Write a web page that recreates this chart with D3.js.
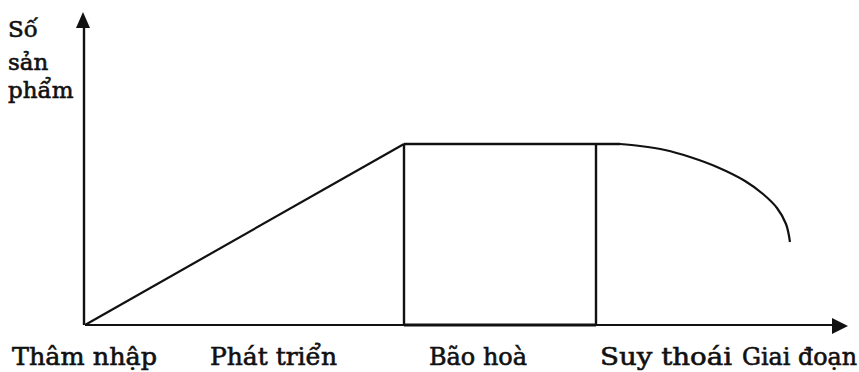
<!DOCTYPE html>
<html>
<head>
<meta charset="utf-8">
<script src="https://cdn.jsdelivr.net/npm/d3@7"></script>
<style>
html,body{margin:0;padding:0;background:#fff;}
svg{display:block;}
text{font-family:"DejaVu Serif",serif;fill:#111;stroke:#111;stroke-width:0.6px;}
</style>
</head>
<body>
<svg id="c" width="859" height="372"></svg>
<script>
// Stage labels on the horizontal axis (value = start position in time units)
const stages = ["Thâm nhập", "Phát triển", "Bão hoà", "Suy thoái"];
const stageLabelX = [-73, 125, 344, 515];
const stageLabelW = [145, 127, 98, 132];
const xTitle = "Giai đoạn";
const xTitleX = 657, xTitleW = 115;
const yTitle = ["Số", "sản", "phẩm"];

// Product-life-cycle line: introduction/growth rise, saturation plateau
const riseX = [0, 319];
const riseY = [0, 181];
const plateauX = [319, 535];
const plateauY = [181, 181];
// saturation box verticals
const boxX = [319, 511];
const boxTop = 181;
// decline curve
const declineX = [535, 555, 580, 605, 632, 660, 678, 692, 701, 705];
const declineY = [181, 179, 175, 168, 158, 144, 131, 117, 101, 83];

const xMax = 763, yMax = 313;

const svg = d3.select("#c");
const x = d3.scaleLinear().domain([0, xMax]).range([85, 848]);
const y = d3.scaleLinear().domain([0, yMax]).range([325, 12]);

const ink = "#111";

// axes (no ticks), drawn through d3 axes
const gx = svg.append("g").attr("transform", `translate(0,${y(0)})`)
  .call(d3.axisBottom(x).tickValues([]).tickSizeOuter(0));
gx.select(".domain").attr("stroke", ink).attr("stroke-width", 2.2).attr("d", `M${x(0)},0H${x(xMax) - 12}`);
const gy = svg.append("g").attr("transform", `translate(${x(0) - 1},0)`)
  .call(d3.axisLeft(y).tickValues([]).tickSizeOuter(0));
gy.select(".domain").attr("stroke", ink).attr("stroke-width", 2.4).attr("d", `M0,${y(0)}V${y(yMax) + 12}`);

// arrowheads
svg.append("path").attr("fill", ink)
  .attr("d", `M${x(0) - 2},${y(yMax)} L${x(0) - 9},${y(yMax) + 16} L${x(0) + 5},${y(yMax) + 16} Z`);
svg.append("path").attr("fill", ink)
  .attr("d", `M${x(xMax)},${y(0) + 1} L${x(xMax) - 16},${y(0) - 7} L${x(xMax) - 16},${y(0) + 9} Z`);

const line = d3.line().x(d => x(d[0])).y(d => y(d[1]));

svg.append("path").attr("fill", "none").attr("stroke", ink).attr("stroke-width", 2.2)
  .attr("d", line(riseX.map((v, i) => [v, riseY[i]])));
svg.append("path").attr("fill", "none").attr("stroke", ink).attr("stroke-width", 2.4)
  .attr("d", line(plateauX.map((v, i) => [v, plateauY[i]])));
boxX.forEach(v => {
  svg.append("path").attr("fill", "none").attr("stroke", ink).attr("stroke-width", 2.4)
    .attr("d", line([[v, 0], [v, boxTop]]));
});
// thicker base of the saturation box
svg.append("path").attr("fill", "none").attr("stroke", ink).attr("stroke-width", 3)
  .attr("d", line([[boxX[0], 0], [boxX[1], 0]]));

svg.append("path").attr("fill", "none").attr("stroke", ink).attr("stroke-width", 2.2)
  .attr("d", d3.line().x(d => x(d[0])).y(d => y(d[1])).curve(d3.curveCatmullRom)(declineX.map((v, i) => [v, declineY[i]])));

// labels
stages.forEach((s, i) => {
  svg.append("text").attr("x", x(stageLabelX[i] + 0)).attr("y", 365)
    .attr("font-size", 24).attr("textLength", stageLabelW[i]).attr("lengthAdjust", "spacingAndGlyphs")
    .text(s);
});
svg.append("text").attr("x", x(xTitleX)).attr("y", 365)
  .attr("font-size", 24).attr("textLength", xTitleW).attr("lengthAdjust", "spacingAndGlyphs")
  .text(xTitle);

const yBase = [37, 70, 98];
yTitle.forEach((s, i) => {
  svg.append("text").attr("x", 8).attr("y", yBase[i]).attr("font-size", 23).text(s);
});
</script>
</body>
</html>
